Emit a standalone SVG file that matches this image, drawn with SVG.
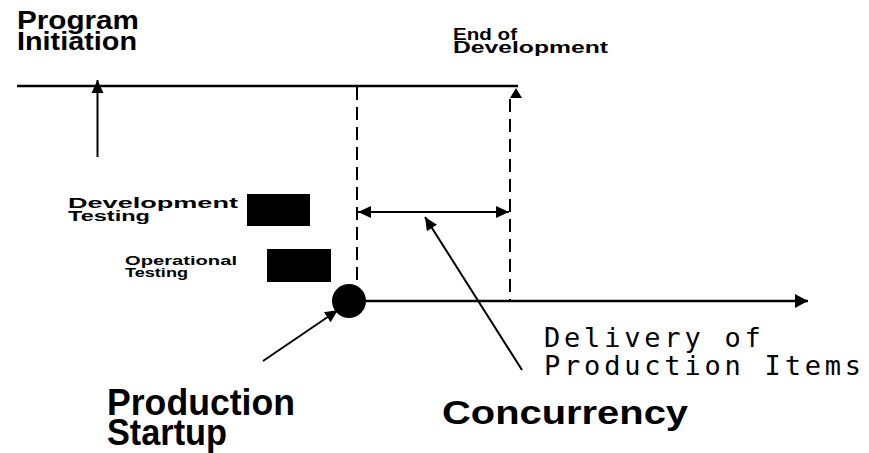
<svg xmlns="http://www.w3.org/2000/svg" width="869" height="453" viewBox="0 0 869 453">
<style>
.bold{font-family:"Liberation Sans",Arial,sans-serif;font-weight:bold;fill:#000}
.mono{font-family:"DejaVu Sans Mono","Liberation Mono",monospace;fill:#000;font-size:27px;letter-spacing:3.8px}
.ln{stroke:#000;fill:none;stroke-width:2.5}
.thin{stroke:#000;fill:none;stroke-width:2}
.dash{stroke:#000;fill:none;stroke-width:2;stroke-dasharray:13 7}
.blk{fill:#000}
</style>
<defs>
<marker id="ah" markerUnits="userSpaceOnUse" markerWidth="14" markerHeight="16" viewBox="0 0 14 16" refX="13" refY="8" orient="auto">
<path d="M0,1 L13,8 L0,15 Z" fill="#000"/>
</marker>
<marker id="ahs" markerUnits="userSpaceOnUse" markerWidth="14" markerHeight="14" viewBox="0 0 14 14" refX="13" refY="7" orient="auto">
<path d="M0,1 L13,7 L0,13 Z" fill="#000"/>
</marker>
<marker id="ahsr" markerUnits="userSpaceOnUse" markerWidth="14" markerHeight="14" viewBox="0 0 14 14" refX="1" refY="7" orient="auto">
<path d="M14,1 L1,7 L14,13 Z" fill="#000"/>
</marker>
</defs>

<g id="connectors">
<line class="ln" x1="17" y1="86" x2="518" y2="86"/>
<line class="thin" x1="97.5" y1="157" x2="97.5" y2="80" marker-end="url(#ahs)"/>
<path class="blk" d="M516,88 L522,98 L510,98 Z"/>
<line class="dash" x1="357" y1="87" x2="357" y2="285"/>
<line class="dash" x1="510" y1="99" x2="510" y2="300"/>
<line class="thin" x1="358" y1="212" x2="509" y2="212" marker-start="url(#ahsr)" marker-end="url(#ahs)"/>
<line class="ln" x1="360" y1="301" x2="808" y2="301" marker-end="url(#ah)"/>
<line class="thin" x1="522" y1="370" x2="425" y2="217" marker-end="url(#ahs)"/>
<line class="thin" x1="263" y1="361" x2="338" y2="310" marker-end="url(#ahs)"/>
</g>

<g id="program-initiation">
<text class="bold" x="17" y="29" font-size="26" textLength="122" lengthAdjust="spacingAndGlyphs">Program</text>
<text class="bold" x="17" y="50" font-size="26" textLength="120" lengthAdjust="spacingAndGlyphs">Initiation</text>
</g>

<g id="end-of-development">
<text class="bold" x="453" y="40" font-size="17" textLength="64" lengthAdjust="spacingAndGlyphs">End of</text>
<text class="bold" x="453" y="53" font-size="17" textLength="155" lengthAdjust="spacingAndGlyphs">Development</text>
</g>

<g id="development-testing">
<text class="bold" x="68" y="208" font-size="14" textLength="170" lengthAdjust="spacingAndGlyphs">Development</text>
<text class="bold" x="68" y="221" font-size="14" textLength="82" lengthAdjust="spacingAndGlyphs">Testing</text>
<rect class="blk" x="247" y="194" width="63" height="32"/>
</g>

<g id="operational-testing">
<text class="bold" x="125" y="265" font-size="12" textLength="112" lengthAdjust="spacingAndGlyphs">Operational</text>
<text class="bold" x="125" y="277" font-size="12" textLength="63" lengthAdjust="spacingAndGlyphs">Testing</text>
<rect class="blk" x="267" y="249" width="64" height="33"/>
</g>

<g id="production-startup">
<circle class="blk" cx="349" cy="301" r="17"/>
<text class="bold" x="107" y="415" font-size="36" textLength="188" lengthAdjust="spacingAndGlyphs">Production</text>
<text class="bold" x="107" y="445" font-size="36" textLength="120" lengthAdjust="spacingAndGlyphs">Startup</text>
</g>

<g id="concurrency">
<text class="bold" x="442" y="424" font-size="34" textLength="246" lengthAdjust="spacingAndGlyphs">Concurrency</text>
</g>

<g id="delivery">
<text class="mono" x="544" y="347">Delivery of</text>
<text class="mono" x="544" y="375">Production Items</text>
</g>
</svg>
